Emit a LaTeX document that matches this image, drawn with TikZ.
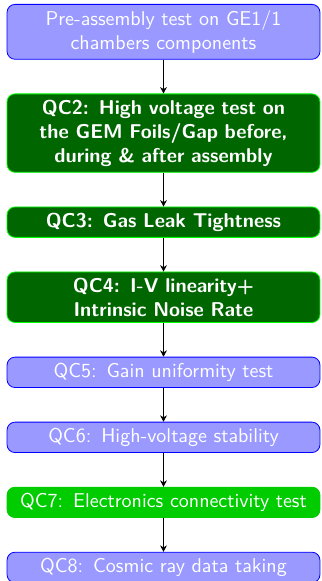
\documentclass[tikz,border=0pt]{standalone}
\usepackage{amsmath}
\usepackage{tikz}
\usetikzlibrary{arrows.meta,positioning}
\definecolor{lavenderblue}{rgb}{0.6,0.6,1}
\definecolor{qcdarkgreen}{rgb}{0,0.4,0}
\definecolor{qclightgreen}{rgb}{0,0.8,0}
\tikzset{
  pendiente/.style={
    rounded corners=4pt,
    draw=blue,
    fill=lavenderblue,
    text=white,
    align=center,
    text width=149.8pt,
    inner ysep=3pt,
    font=\sffamily
  },
  hecho/.style={
    rounded corners=4pt,
    draw=green,
    fill=qcdarkgreen,
    text=white,
    align=center,
    text width=149.8pt,
    inner ysep=3pt,
    font=\sffamily\bfseries
  },
  encurso/.style={
    rounded corners=4pt,
    draw=qclightgreen,
    fill=qclightgreen,
    text=white,
    align=center,
    text width=149.8pt,
    inner ysep=3pt,
    font=\sffamily
  },
  arrow/.style={
    -{Stealth[length=3.2pt,width=3.4pt]},
    black
  }
}

\begin{document}
\begin{tikzpicture}[node distance=16.9pt]
\useasboundingbox (0,0) rectangle (160.5pt,-290.5pt);
\node[pendiente, anchor=north] (pre) at (81.75pt,-2pt) {Pre-assembly test on GE1/1\\chambers components};
\node[hecho, below=of pre] (qc2) {QC2: High voltage test on\\the GEM Foils/Gap before,\\during \& after assembly};
\node[hecho, below=of qc2] (qc3) {QC3: Gas Leak Tightness};
\node[hecho, below=of qc3] (qc4) {QC4: I-V linearity+\\Intrinsic Noise Rate};
\node[pendiente, below=of qc4] (qc5) {QC5: Gain uniformity test};
\node[pendiente, below=of qc5] (qc6) {QC6: High-voltage stability};
\node[encurso, below=of qc6] (qc7) {QC7: Electronics connectivity test};
\node[pendiente, below=of qc7] (qc8) {QC8: Cosmic ray data taking};
\draw[arrow] (pre) -- (qc2);
\draw[arrow] (qc2) -- (qc3);
\draw[arrow] (qc3) -- (qc4);
\draw[arrow] (qc4) -- (qc5);
\draw[arrow] (qc5) -- (qc6);
\draw[arrow] (qc6) -- (qc7);
\draw[arrow] (qc7) -- (qc8);
\end{tikzpicture}
\end{document}
